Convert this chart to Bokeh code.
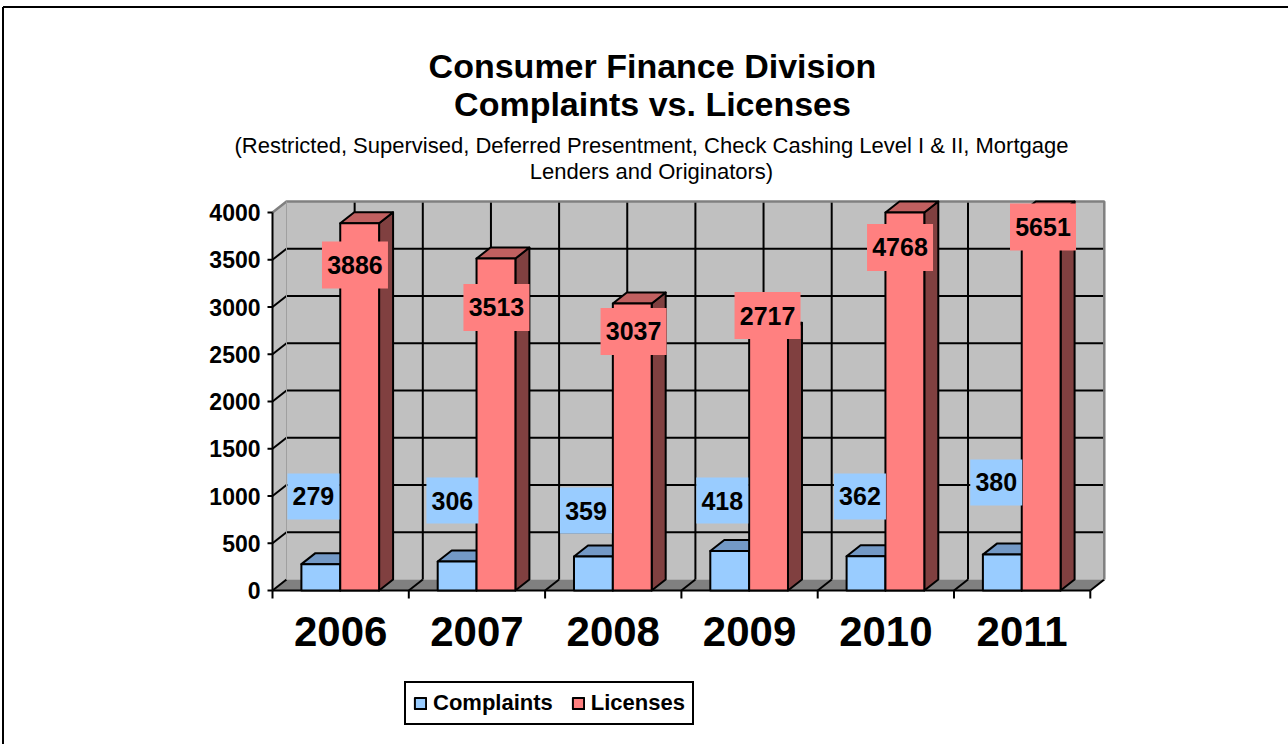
from bokeh.plotting import figure
from bokeh.models import Range1d, Legend, LegendItem
from bokeh.core.properties import value
from bokeh.embed import file_html
from bokeh.resources import INLINE

# ---------------- data ----------------
years = ["2006", "2007", "2008", "2009", "2010", "2011"]
complaints = [279, 306, 359, 418, 362, 380]
licenses = [3886, 3513, 3037, 2717, 4768, 5651]
series_names = ["Complaints", "Licenses"]
y_ticks = [0, 500, 1000, 1500, 2000, 2500, 3000, 3500, 4000]
y_tick_labels = ["0", "500", "1000", "1500", "2000", "2500", "3000", "3500", "4000"]
y_max = 4000
title_lines = ["Consumer Finance Division", "Complaints vs. Licenses"]
subtitle_lines = ["(Restricted, Supervised, Deferred Presentment, Check Cashing Level I & II, Mortgage",
                  "Lenders and Originators)"]

# data-label anchor positions (category offset, value level), as placed in the original
complaint_label_dx = [0.30, 0.32, 0.30, 0.30, 0.31, 0.31]
complaint_label_lvl = [995, 952, 846, 952, 995, 1143]
license_label_dx = [0.605, 0.643, 0.649, 0.632, 0.604, 0.653]
license_label_lvl = [3444, 2995, 2741, 2910, 3630, 3847]

# ---------------- geometry ----------------
W, H = 1288, 744
PXC = 136.3      # px per category
PXV = 0.0945     # px per value unit
OX, OY = 272, 590  # screen position of (0, 0)
XS, XE = -OX / PXC, (W - OX) / PXC
YS, YE = -(H - OY) / PXV, OY / PXV
DX = 14 / PXC    # depth offset
DY = 11 / PXV
BAR_A = 0.212
BAR_W = 0.285
FONT = "Liberation Sans"


def sx_(px):
    return (px - OX) / PXC


def sy_(py):
    return (OY - py) / PXV


p = figure(width=W, height=H, output_backend="svg", toolbar_location=None,
           x_range=Range1d(XS, XE), y_range=Range1d(YS, YE),
           x_axis_location=None, y_axis_location=None, min_border=0,
           outline_line_color=None, background_fill_color="white",
           border_fill_color="white")
p.grid.visible = False

n = len(years)
ncat = n

# outer frame (left and top edges)
p.line([sx_(2.5)] * 2, [YS, sy_(6.5)], line_color="black", line_width=2)
p.line([sx_(2.5), XE], [sy_(6.5)] * 2, line_color="black", line_width=2)

# back wall
p.patch([DX, ncat + DX, ncat + DX, DX], [DY, DY, y_max + DY, y_max + DY],
        fill_color="#c0c0c0", line_color=None)
# side wall
p.patch([0, DX, DX, 0], [0, DY, y_max + DY, y_max], fill_color="#c0c0c0", line_color=None)
# floor
p.patch([0, ncat, ncat + DX, DX], [0, 0, DY, DY], fill_color="#808080", line_color=None)

# horizontal gridlines on back wall + side wall
for t in y_ticks[1:-1]:
    p.line([DX, ncat + DX], [t + DY, t + DY], line_color="black", line_width=2)
for t in y_ticks[:-1]:
    p.line([0, DX], [t, t + DY], line_color="black", line_width=2)
# vertical gridlines on back wall (every half category)
for k in range(1, 2 * ncat):
    xx = k * 0.5 + DX
    p.line([xx, xx], [DY, y_max + DY], line_color="black", line_width=2)
# floor lines at category boundaries
for k in range(1, ncat + 1):
    p.line([k, k + DX], [0, DY], line_color="black", line_width=2)

# wall edges
p.line([0, DX, ncat + DX, ncat + DX], [y_max, y_max + DY, y_max + DY, DY],
       line_color="#808080", line_width=2.5)
p.line([DX, DX], [DY, y_max + DY], line_color="#a0a0a0", line_width=1)

# axes lines and ticks
p.line([0, 0], [0, y_max], line_color="black", line_width=2)
p.line([0, ncat], [0, 0], line_color="black", line_width=2)
p.segment(x0=[-5 / PXC] * len(y_ticks), y0=y_ticks, x1=[0] * len(y_ticks), y1=y_ticks,
          line_color="black", line_width=2)
p.segment(x0=list(range(ncat + 1)), y0=[0] * (ncat + 1), x1=list(range(ncat + 1)),
          y1=[-8 / PXV] * (ncat + 1), line_color="black", line_width=2)

# ---------------- bars ----------------
colors = {
    "Complaints": ("#99ccff", "#7399c6", "#4d6680"),
    "Licenses": ("#ff8080", "#c06060", "#804040"),
}
front_renderers = []
for s, (name, vals) in enumerate(zip(series_names, [complaints, licenses])):
    fc, tc, sc = colors[name]
    fx, fy, tx, ty, sx, sy = [], [], [], [], [], []
    for i, v in enumerate(vals):
        h = min(v, y_max)
        x0 = i + BAR_A + s * BAR_W
        x1 = x0 + BAR_W
        fx.append([x0, x1, x1, x0]); fy.append([0, 0, h, h])
        tx.append([x0, x1, x1 + DX, x0 + DX]); ty.append([h, h, h + DY, h + DY])
        sx.append([x1, x1 + DX, x1 + DX, x1]); sy.append([0, DY, h + DY, h])
    p.patches(sx, sy, fill_color=sc, line_color="black", line_width=2, line_join="round")
    p.patches(tx, ty, fill_color=tc, line_color="black", line_width=2, line_join="round")
    r = p.patches(fx, fy, fill_color=fc, line_color="black", line_width=2, line_join="round")
    front_renderers.append(r)

# ---------------- data labels ----------------
cx = [i + d for i, d in enumerate(complaint_label_dx)]
lx = [i + d for i, d in enumerate(license_label_dx)]
p.rect(cx, complaint_label_lvl, width=52, height=46, width_units="screen",
       height_units="screen", fill_color="#99ccff", line_color=None)
p.text(cx, complaint_label_lvl, text=[str(v) for v in complaints], text_align="center",
       text_baseline="middle", text_font=value(FONT), text_font_style="bold",
       text_font_size="25px", text_color="black")
p.rect(lx, license_label_lvl, width=66, height=47, width_units="screen",
       height_units="screen", fill_color="#ff8080", line_color=None)
p.text(lx, license_label_lvl, text=[str(v) for v in licenses], text_align="center",
       text_baseline="middle", text_font=value(FONT), text_font_style="bold",
       text_font_size="25px", text_color="black")

# ---------------- axis labels ----------------
p.text([-12 / PXC] * len(y_ticks), y_ticks, text=y_tick_labels, text_align="right",
       text_baseline="middle", text_font=value(FONT), text_font_style="bold",
       text_font_size="23px", text_color="black")
p.text([i + 0.5 for i in range(n)], [-41 / PXV] * n, text=years, text_align="center",
       text_baseline="middle", text_font=value(FONT), text_font_style="bold",
       text_font_size="42px", text_color="black")

# ---------------- titles ----------------
p.text([sx_(652)] * 2, [sy_(65), sy_(103)], text=title_lines, text_align="center",
       text_baseline="middle", text_font=value(FONT), text_font_style="bold",
       text_font_size="34px", text_color="black")
p.text([sx_(651)] * 2, [sy_(144.5), sy_(171)], text=subtitle_lines, text_align="center",
       text_baseline="middle", text_font=value(FONT), text_font_style="normal",
       text_font_size="22px", text_color="black")

# ---------------- legend ----------------
legend = Legend(items=[LegendItem(label=nm, renderers=[r])
                       for nm, r in zip(series_names, front_renderers)],
                location=(404, H - 725), orientation="horizontal",
                glyph_width=14, glyph_height=14, label_standoff=6, spacing=18,
                padding=7, margin=0, label_height=20, label_text_font=FONT,
                label_text_font_style="bold", label_text_color="black",
                label_text_font_size="22px", border_line_color="black",
                border_line_alpha=1.0, border_line_width=2,
                background_fill_color="white", background_fill_alpha=1.0)
p.add_layout(legend)

open("out.html", "w").write(file_html(p, INLINE))
